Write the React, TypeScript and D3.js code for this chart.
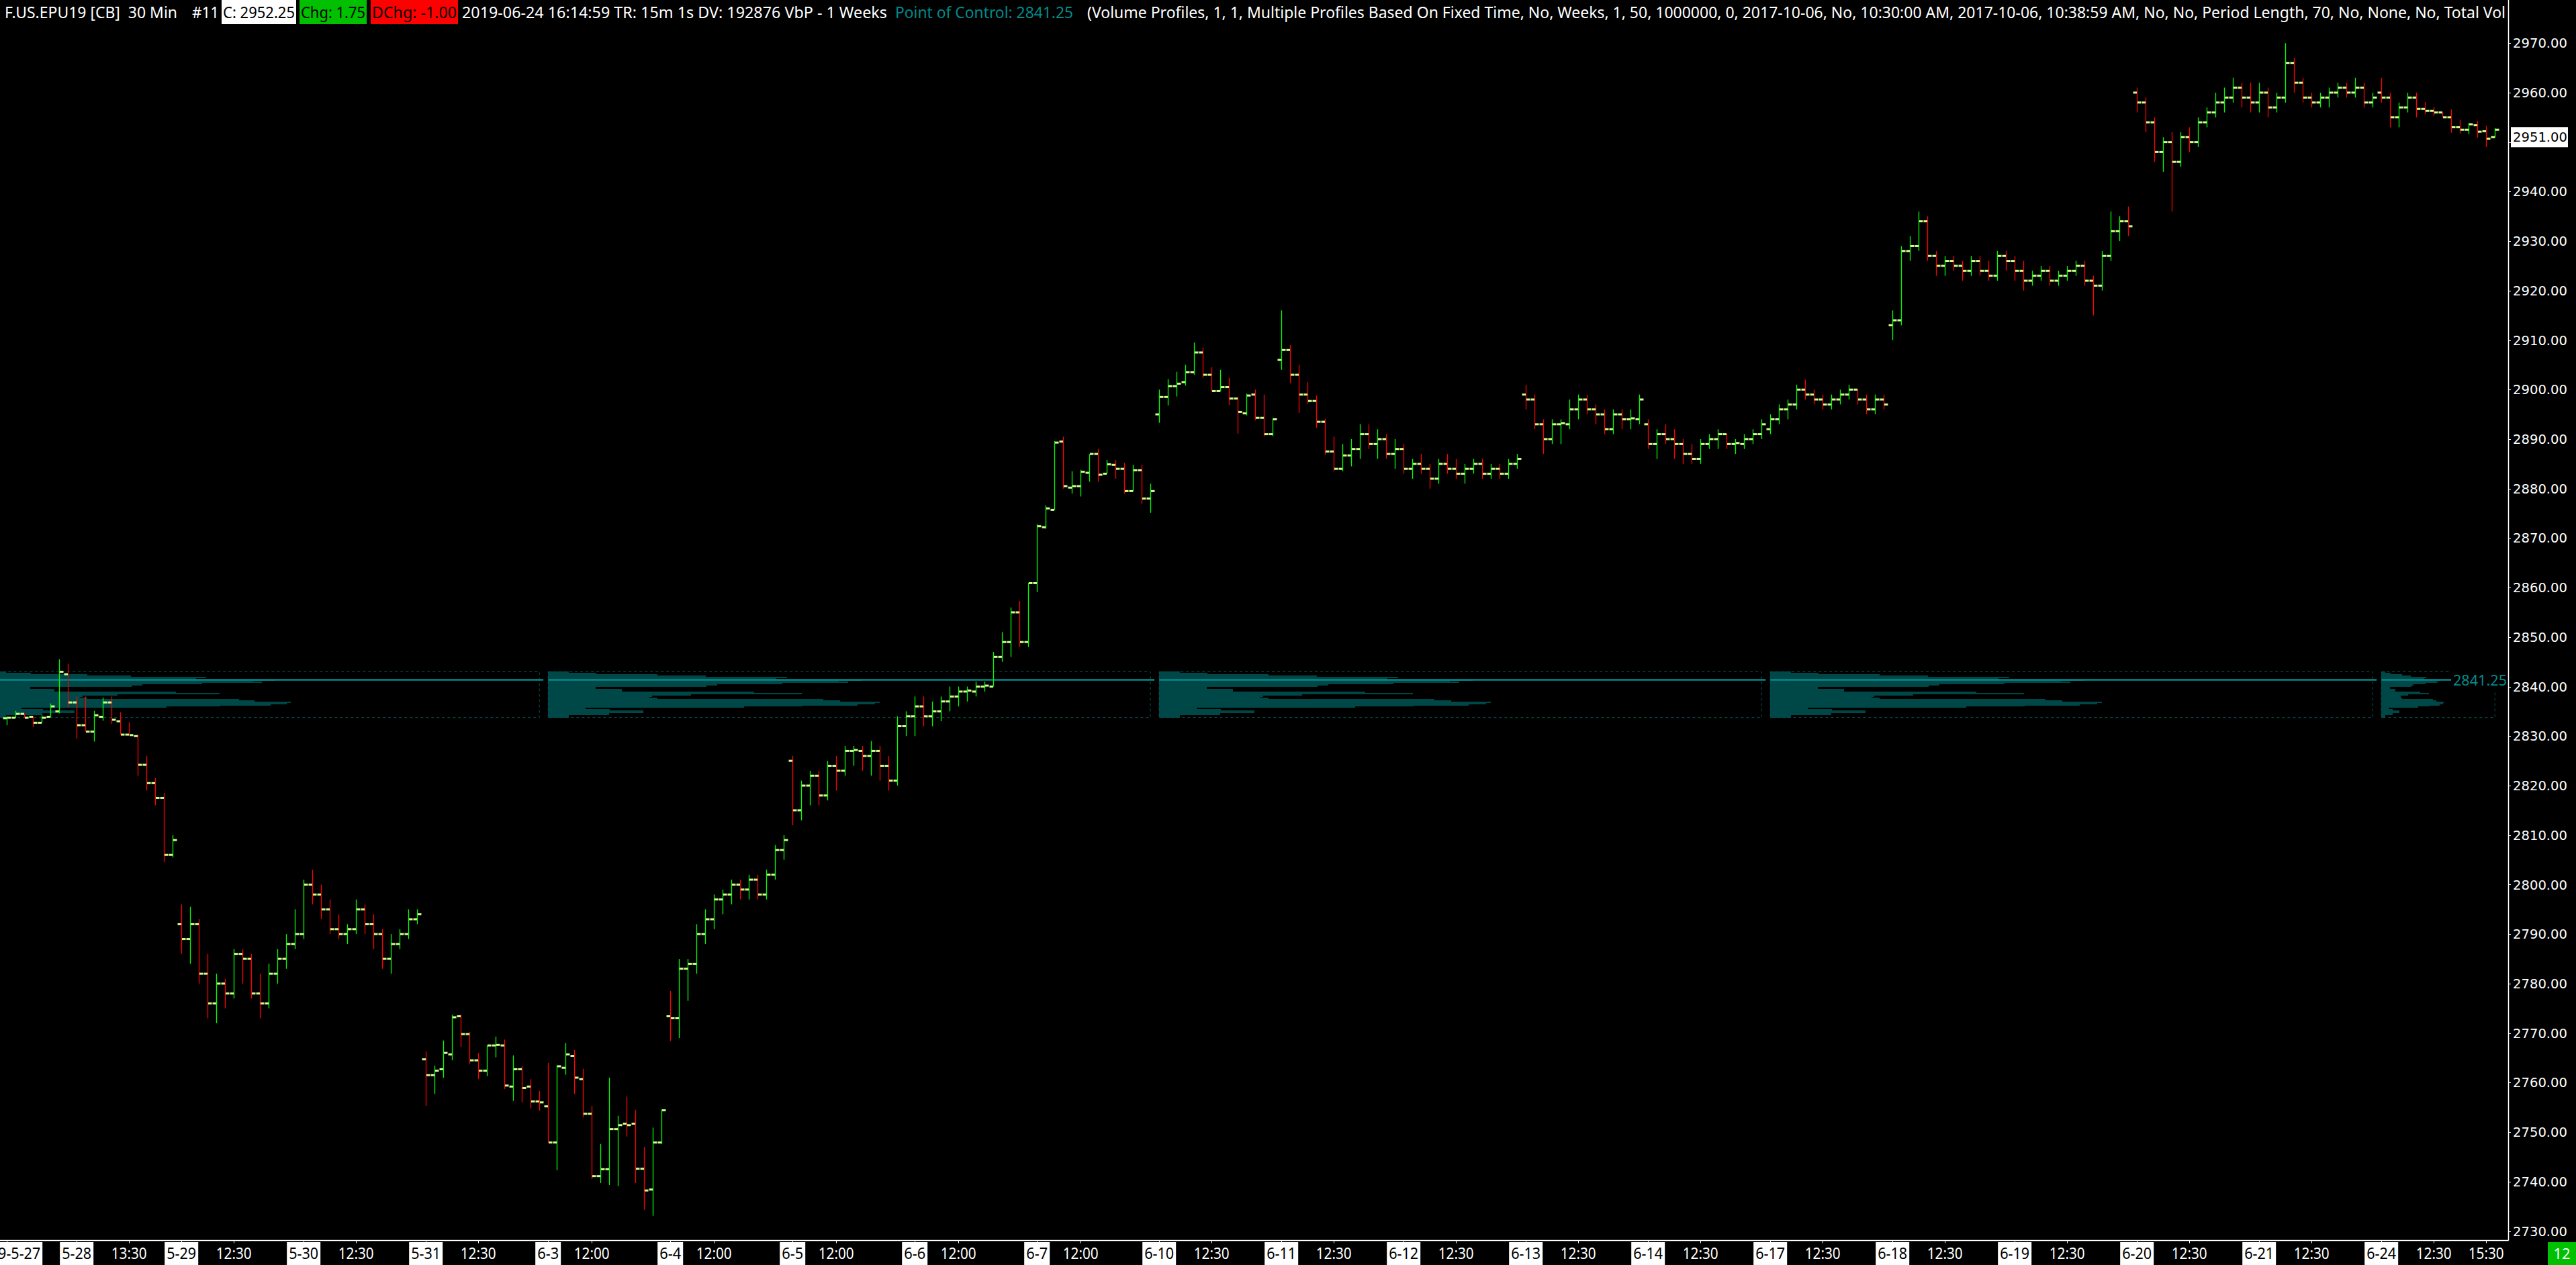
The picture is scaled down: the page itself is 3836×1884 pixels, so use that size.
import React from "react";
import * as d3 from "d3";

type OHLC = [number, number, number, number];

// ---- price bars, one array per session: [open, high, low, close] ----
const may27: OHLC[] = [
  [2833.6, 2834.0, 2832.2, 2833.7], [2833.7, 2835.1, 2833.7, 2834.5], [2834.5, 2834.6, 2833.7, 2833.7],
  [2833.9, 2834.1, 2831.8, 2832.7], [2832.7, 2834.2, 2832.7, 2833.7], [2833.9, 2836.6, 2833.9, 2836.0],
  [2835.0, 2845.5, 2834.6, 2843.0], [2842.5, 2844.6, 2835.8, 2836.8],
];
const may28: OHLC[] = [
  [2836.8, 2838.0, 2829.5, 2832.2], [2832.2, 2838.0, 2830.9, 2830.9], [2830.9, 2835.1, 2828.9, 2834.2],
  [2833.9, 2837.8, 2833.1, 2836.8], [2836.8, 2838.0, 2832.5, 2833.3], [2833.0, 2834.8, 2830.3, 2830.3],
  [2830.3, 2832.8, 2830.3, 2830.2], [2830.0, 2830.3, 2822.0, 2824.2], [2824.2, 2826.0, 2819.0, 2820.5],
  [2820.5, 2821.5, 2816.0, 2817.5], [2817.5, 2818.5, 2804.5, 2806.0], [2806.0, 2810.0, 2805.5, 2809.0],
];
const may29: OHLC[] = [
  [2792, 2796, 2786, 2789], [2789, 2795.5, 2784, 2792], [2792, 2793, 2780, 2782], [2782, 2786, 2773, 2776],
  [2776, 2782, 2772, 2780], [2780, 2781, 2775, 2778], [2778, 2787, 2777, 2786], [2786, 2787, 2780, 2785],
  [2785, 2786, 2777, 2778], [2778, 2782, 2773, 2776], [2776, 2784, 2775, 2782], [2782, 2787, 2780, 2785],
  [2785, 2790, 2783, 2788], [2788, 2795, 2787, 2790],
];
const may30: OHLC[] = [
  [2790, 2801, 2789, 2800], [2800, 2803, 2796, 2798], [2798, 2800, 2793, 2795], [2795, 2797, 2790, 2791],
  [2791, 2794, 2789, 2790], [2790, 2792, 2788, 2791], [2791, 2797, 2790, 2795], [2795, 2796, 2790, 2792],
  [2792, 2794, 2787, 2790], [2790, 2791, 2783, 2785], [2785, 2790, 2782, 2788], [2788, 2791, 2787, 2790],
  [2790, 2795, 2789, 2793], [2793, 2795, 2792, 2794],
];
const may31: OHLC[] = [
  [2764.7, 2766.3, 2755.3, 2761.5], [2761.5, 2763.4, 2757.7, 2762.4], [2762.7, 2768.5, 2761.0, 2766.0],
  [2765.7, 2773.7, 2764.5, 2773.2], [2773.4, 2773.7, 2767.2, 2769.8], [2769.8, 2770.2, 2763.8, 2764.5],
  [2764.5, 2766.0, 2760.7, 2762.4], [2762.4, 2767.5, 2761.3, 2767.5], [2767.5, 2769.3, 2765.1, 2767.6],
  [2767.5, 2768.7, 2758.7, 2759.4], [2759.2, 2765.5, 2756.3, 2762.7], [2762.7, 2763.3, 2756.0, 2758.9],
  [2759.2, 2760.7, 2754.8, 2756.2], [2756.2, 2758.3, 2754.3, 2756.0],
];
const jun3: OHLC[] = [
  [2755.2, 2764.0, 2747.9, 2747.9], [2747.9, 2763.5, 2742.3, 2763.3], [2763.0, 2768.0, 2761.6, 2765.7],
  [2765.4, 2766.6, 2757.7, 2761.0], [2760.7, 2762.8, 2753.0, 2753.7], [2753.7, 2755.3, 2740.5, 2741.1],
  [2741.1, 2747.6, 2739.7, 2742.5], [2742.5, 2761.0, 2739.3, 2750.6], [2750.6, 2753.3, 2739.1, 2751.4],
  [2751.7, 2757.2, 2749.1, 2751.4], [2751.7, 2754.5, 2739.7, 2742.6], [2742.6, 2747.0, 2734.3, 2738.2],
  [2738.4, 2750.9, 2733.1, 2747.9], [2747.9, 2754.6, 2747.6, 2754.4],
];
const jun4: OHLC[] = [
  [2773.4, 2778.5, 2768.4, 2773.0], [2773.0, 2785.0, 2769.0, 2783.0], [2783, 2785, 2776.5, 2784],
  [2784, 2792, 2782, 2790], [2790, 2795, 2788, 2793], [2793, 2798, 2791, 2797], [2797, 2799, 2794, 2798],
  [2798, 2801, 2796, 2800], [2800, 2801, 2797, 2799], [2799, 2802, 2797, 2801], [2801, 2802, 2797, 2798],
  [2798, 2803, 2797, 2802], [2802, 2808, 2801, 2807], [2807, 2810, 2805, 2809],
];
const jun5: OHLC[] = [
  [2825, 2826, 2812, 2815], [2815, 2821, 2813, 2820], [2820, 2823, 2816, 2822], [2822, 2823, 2816, 2818],
  [2818, 2825, 2817, 2824], [2824, 2826, 2819, 2823], [2823, 2828, 2822, 2827], [2827, 2828, 2824, 2827.2],
  [2827, 2828, 2823, 2826], [2826, 2829, 2822, 2827], [2827, 2828, 2821, 2824], [2824, 2826, 2819, 2821],
  [2821, 2834, 2820, 2832], [2832, 2835, 2830, 2834],
];
const jun6: OHLC[] = [
  [2834, 2838, 2830, 2836], [2836, 2838, 2832, 2834], [2834, 2837, 2832, 2835], [2835, 2838, 2833, 2837],
  [2837, 2840, 2835, 2838], [2838, 2840, 2836, 2839], [2839, 2840, 2837, 2839.2], [2839, 2841, 2838, 2840],
  [2840, 2841, 2839, 2840.2], [2840, 2847, 2840, 2846], [2846, 2851, 2845, 2849], [2849, 2856, 2846, 2855],
  [2855, 2857.3, 2848, 2849], [2849, 2861, 2848, 2860.9],
];
const jun7: OHLC[] = [
  [2860.9, 2872.8, 2859.1, 2872.4], [2872.2, 2876.6, 2871.9, 2876.0], [2875.7, 2889.6, 2875.7, 2889.3],
  [2889.5, 2890.5, 2880.0, 2880.5], [2880.2, 2883.5, 2879.0, 2880.5], [2880.5, 2883.8, 2878.4, 2883.4],
  [2883.2, 2887.0, 2881.4, 2887.0], [2887.0, 2888.0, 2881.4, 2882.8], [2883.0, 2885.8, 2883.0, 2884.9],
  [2884.8, 2885.8, 2882.0, 2884.0], [2884.0, 2885.2, 2879.0, 2879.5], [2879.5, 2884.8, 2879.4, 2883.7],
  [2883.7, 2884.8, 2876.9, 2878.0], [2878.0, 2881.0, 2875.1, 2879.5],
];
const jun10: OHLC[] = [
  [2895.0, 2900.0, 2893.3, 2898.5], [2898.5, 2902.1, 2896.8, 2900.7], [2900.7, 2903.6, 2898.6, 2901.2],
  [2901.5, 2905.0, 2900.8, 2903.5], [2903.5, 2909.5, 2903.0, 2907.5], [2907.5, 2908.5, 2902.4, 2903.0],
  [2903.0, 2904.5, 2899.6, 2899.7], [2899.7, 2904.0, 2899.6, 2900.5], [2900.5, 2902.4, 2896.9, 2898.2],
  [2898.2, 2898.5, 2891.1, 2895.5], [2895.2, 2899.2, 2894.8, 2898.8], [2899.0, 2900.0, 2893.8, 2894.3],
  [2894.3, 2899.0, 2890.6, 2891.0], [2891.0, 2894.2, 2890.6, 2894.0],
];
const jun11: OHLC[] = [
  [2906, 2916, 2904, 2908], [2908, 2909, 2901.3, 2903], [2903, 2905, 2895.3, 2899.0],
  [2899.0, 2901.5, 2897.1, 2897.7], [2897.7, 2898.8, 2892.3, 2893.5], [2893.5, 2894.1, 2886.8, 2887.5],
  [2887.5, 2890.5, 2883.5, 2884.0], [2884.0, 2889.0, 2883.5, 2886.7], [2886.7, 2890, 2884.5, 2888],
  [2888, 2893, 2886, 2891], [2891, 2893, 2888, 2889], [2889, 2892, 2886, 2890], [2890, 2891, 2886, 2887],
  [2887, 2890, 2884, 2888],
];
const jun12: OHLC[] = [
  [2888, 2889, 2883, 2884], [2884, 2886, 2882, 2885], [2885, 2887, 2883, 2884], [2884, 2885, 2880, 2882],
  [2882, 2886, 2881, 2885], [2885, 2887, 2883, 2884], [2884, 2886, 2882, 2883], [2883, 2885, 2881, 2884],
  [2884, 2886, 2883, 2885], [2885, 2886, 2882, 2883], [2883, 2885, 2882, 2884], [2884, 2885, 2882, 2883],
  [2883, 2886, 2882, 2885], [2885, 2887, 2884, 2886],
];
const jun13: OHLC[] = [
  [2899, 2901, 2896, 2898], [2898, 2899, 2892, 2893], [2893, 2894, 2887, 2890], [2890, 2894, 2889, 2893],
  [2893, 2894, 2889, 2893.2], [2893, 2898, 2892, 2896], [2896, 2899, 2894, 2898], [2898, 2899, 2895, 2896],
  [2896, 2897, 2893, 2895], [2895, 2896, 2891, 2892], [2892, 2896, 2891, 2895], [2895, 2896, 2892, 2894],
  [2894, 2896, 2892, 2894.2], [2894, 2899, 2893, 2898],
];
const jun14: OHLC[] = [
  [2893, 2894, 2888, 2889], [2889, 2892, 2886, 2891], [2891, 2893, 2889, 2890], [2890, 2892, 2886, 2889],
  [2889, 2890, 2885, 2887], [2887, 2889, 2885, 2886], [2886, 2890, 2885, 2889], [2889, 2891, 2888, 2890],
  [2890, 2892, 2888, 2891], [2891, 2891, 2888, 2889], [2889, 2890, 2887, 2889.2], [2889, 2891, 2888, 2890],
  [2890, 2892, 2889, 2891], [2891, 2894, 2890, 2893],
];
const jun17: OHLC[] = [
  [2892, 2895, 2891, 2894], [2894, 2897, 2893, 2896], [2896, 2898, 2894, 2897], [2897, 2901, 2896, 2900],
  [2900, 2902, 2898, 2899], [2899, 2900, 2897, 2898], [2898, 2899, 2896, 2897], [2897, 2899, 2896, 2898],
  [2898, 2900, 2897, 2899], [2899, 2901, 2898, 2900], [2900, 2900, 2897, 2898], [2898, 2899, 2895, 2896],
  [2896, 2899, 2895, 2898], [2898, 2899, 2896, 2897],
];
const jun18: OHLC[] = [
  [2913, 2916, 2910, 2914], [2914, 2929, 2913, 2928], [2928, 2931, 2926, 2929], [2929, 2936, 2928, 2934],
  [2934, 2935, 2926, 2927], [2927, 2928, 2923, 2925], [2925, 2927, 2923, 2926], [2926, 2927, 2924, 2925],
  [2925, 2926, 2922, 2924], [2924, 2927, 2923, 2926], [2926, 2927, 2923, 2924], [2924, 2926, 2922, 2923],
  [2923, 2928, 2922, 2927], [2927, 2928, 2924, 2926],
];
const jun19: OHLC[] = [
  [2926, 2927, 2922, 2924], [2924, 2926, 2920, 2922], [2922, 2924, 2921, 2923], [2923, 2925, 2922, 2924],
  [2924, 2925, 2921, 2922], [2922, 2924, 2921, 2923], [2923, 2925, 2922, 2924], [2924, 2926, 2923, 2925],
  [2925, 2926, 2921, 2922], [2922, 2923, 2915, 2921], [2921, 2928, 2920, 2927], [2927, 2936, 2926, 2932],
  [2932, 2935, 2930, 2934], [2934, 2937, 2931, 2933],
];
const jun20: OHLC[] = [
  [2960, 2961, 2956, 2958], [2958, 2959, 2952, 2954], [2954, 2955, 2946, 2948], [2948, 2951, 2944, 2950],
  [2950, 2952, 2936, 2946], [2946, 2952, 2945, 2951], [2951, 2953, 2948, 2950], [2950, 2955, 2949, 2954],
  [2954, 2957, 2953, 2956], [2956, 2960, 2955, 2958], [2958, 2961, 2956, 2959], [2959, 2963, 2958, 2961],
  [2961, 2962, 2957, 2959], [2959, 2962, 2956, 2958],
];
const jun21: OHLC[] = [
  [2958, 2962, 2956, 2960], [2960, 2961, 2955, 2957], [2957, 2960, 2956, 2959], [2959, 2970, 2958, 2966],
  [2966, 2967, 2960, 2962], [2962, 2963, 2958, 2959], [2959, 2960, 2957, 2958], [2958, 2960, 2957, 2959],
  [2959, 2961, 2957, 2960], [2960, 2962, 2959, 2961], [2961, 2962, 2959, 2960], [2960, 2963, 2959, 2961],
  [2961, 2962, 2957, 2958], [2958, 2960, 2957, 2959],
];
const jun24: OHLC[] = [
  [2960, 2963, 2958, 2959], [2959, 2960, 2953, 2955], [2955, 2958, 2953, 2957], [2957, 2960, 2956, 2959],
  [2959, 2960, 2955, 2956.7], [2956.7, 2958.1, 2955.6, 2956.3], [2956.3, 2957.1, 2955.3, 2956.0],
  [2956.0, 2956.0, 2955.0, 2955.0], [2955.0, 2956.6, 2951.9, 2953.0], [2953.0, 2954.5, 2951.7, 2952.5],
  [2952.5, 2953.9, 2951.6, 2953.6], [2953.4, 2954.3, 2950.9, 2952.1], [2952.2, 2953.3, 2949.0, 2950.7],
  [2951.0, 2952.8, 2950.9, 2952.5],
];

const sessions: OHLC[][] = [may27, may28, may29, may30, may31, jun3, jun4, jun5, jun6, jun7, jun10, jun11, jun12, jun13, jun14, jun17, jun18, jun19, jun20, jun21, jun24];
const sessionDates = ["2019-5-27", "5-28", "5-29", "5-30", "5-31", "6-3", "6-4", "6-5", "6-6", "6-7", "6-10", "6-11", "6-12", "6-13", "6-14", "6-17", "6-18", "6-19", "6-20", "6-21", "6-24"];
const sessionTimes = ["", "13:30", "12:30", "12:30", "12:30", "12:00", "12:00", "12:00", "12:00", "12:00", "12:30", "12:30", "12:30", "12:30", "12:30", "12:30", "12:30", "12:30", "12:30", "12:30", "12:30"];
const sessionTimeBar = [0, 6, 6, 6, 6, 5, 5, 5, 5, 5, 6, 6, 6, 6, 6, 6, 6, 6, 6, 6, 6];
const extraTimeLabel = "15:30";
const extraTimeBar = 12;

const priceTicks = d3.range(2730, 2971, 10);
const lastPrice = 2951.0;
const barCountLabel = "12";

// ---- volume profile: levels from 2842.75 downward in 0.25 steps ----
const profileTop = 2842.75;
const profileTick = 0.25;
const pocPrice = 2841.25;
const profileVolumes = [
  28, 65, 148, 213, 323, 309, 424, 393, 406, 317, 229, 214, 64, 64, 100, 100, 279, 343, 193,
  141, 137, 148, 372, 395, 448, 442, 418, 344, 265, 51, 83, 129, 129, 82, 82, 28, 28,
];
const profileStartBar = [-2.3, 62, 132, 202, 272];
const profileEndBar = [61, 131, 201, 271, 285];

// header
const headerTitle = "F.US.EPU19 [CB]  30 Min";
const headerNum = "#11";
const headerClose = "C: 2952.25";
const headerChg = "Chg: 1.75";
const headerDChg = "DChg: -1.00";
const headerInfo = "2019-06-24 16:14:59 TR: 15m 1s DV: 192876 VbP - 1 Weeks";
const headerPoc = "Point of Control: 2841.25";
const headerStudy = "(Volume Profiles, 1, 1, Multiple Profiles Based On Fixed Time, No, Weeks, 1, 50, 1000000, 0, 2017-10-06, No, 10:30:00 AM, 2017-10-06, 10:38:59 AM, No, No, Period Length, 70, No, None, No, Total Vol";

const W = 3836;
const H = 1884;
const AXIS_X = 3735;
const AXIS_Y = 1847.5;
const UP = "#00ff00";
const DOWN = "#ff0000";
const TICKC = "#ccff90";
const PROF = "#004747";
const POC = "#008b8b";
const UIFONT = "'Noto Sans', 'Open Sans', sans-serif";

export default function App() {
  const bars: OHLC[] = sessions.flat();
  const sessionStart: number[] = [];
  let acc = 0;
  sessions.forEach((s) => { sessionStart.push(acc); acc += s.length; });

  const x = d3.scaleLinear().domain([0, bars.length - 1]).range([10.2, 10.2 + 13 * (bars.length - 1)]);
  const y = d3.scaleLinear().domain([2730, 2970]).range([1833.5, 64.2]);

  const maxVol = d3.max(profileVolumes) as number;

  const bottomLabels: { x: number; text: string; boxed: boolean }[] = [];
  sessions.forEach((_, i) => {
    bottomLabels.push({ x: x(sessionStart[i]), text: sessionDates[i], boxed: true });
    if (sessionTimes[i]) bottomLabels.push({ x: x(sessionStart[i] + sessionTimeBar[i]), text: sessionTimes[i], boxed: false });
  });
  bottomLabels.push({ x: x(sessionStart[sessions.length - 1] + extraTimeBar), text: extraTimeLabel, boxed: false });

  const charW = (t: string) => {
    let w = 0;
    for (const c of t) w += c === "-" ? 8 : c === ":" ? 5 : 12;
    return w;
  };

  return (
    <svg width={W} height={H} style={{ position: "fixed", left: 0, top: 0, background: "#000" }} xmlns="http://www.w3.org/2000/svg">
      <defs>
        <clipPath id="plot"><rect x={0} y={38} width={AXIS_X} height={AXIS_Y - 38} /></clipPath>
        <clipPath id="hdr"><rect x={0} y={0} width={AXIS_X - 1} height={40} /></clipPath>
      </defs>
      <rect x={0} y={0} width={W} height={H} fill="#000" />

      <g clipPath="url(#plot)">
        {profileStartBar.map((sb, k) => {
          const x0 = x(sb);
          const x1 = x(profileEndBar[k]);
          const vx = d3.scaleLinear().domain([0, maxVol]).range([0, 0.55 * (x1 - x0)]);
          const yTop = y(profileTop + profileTick);
          const yBot = y(profileTop - profileTick * (profileVolumes.length - 1));
          return (
            <g key={"p" + k}>
              {profileVolumes.map((v, j) => {
                const p = profileTop - j * profileTick;
                return <rect key={j} x={x0} y={y(p + profileTick)} width={vx(v)} height={y(p) - y(p + profileTick) + 0.3} fill={PROF} shapeRendering="crispEdges" />;
              })}
              <rect x={x0} y={yTop} width={x1 - x0} height={yBot - yTop} fill="none" stroke="#0b4f4f" strokeWidth={1} strokeDasharray="4,4" />
              <line x1={x0} x2={k === profileStartBar.length - 1 ? 3650 : x1 + 6} y1={y(pocPrice + profileTick / 2)} y2={y(pocPrice + profileTick / 2)} stroke={POC} strokeWidth={2.5} />
            </g>
          );
        })}

        {bars.map((b, i) => {
          const [o, h, l, c] = b;
          const cx = Math.round(x(i)) + 0.5;
          const col = c >= o ? UP : DOWN;
          return (
            <g key={i}>
              <line x1={cx} x2={cx} y1={y(h)} y2={y(l)} stroke={col} strokeWidth={1.3} />
              <rect x={cx - 6} y={y(o) - 1.5} width={5.5} height={3} fill={TICKC} />
              <rect x={cx + 0.5} y={y(c) - 1.5} width={5.5} height={3} fill={TICKC} />
            </g>
          );
        })}

        <rect x={3650} y={997} width={84} height={30} fill="#000" />
        <text x={3653} y={1021} fontFamily={UIFONT} fontSize={22} fill={POC} textLength={80} lengthAdjust="spacingAndGlyphs">{pocPrice.toFixed(2)}</text>
      </g>

      {/* header */}
      <g clipPath="url(#hdr)" fontFamily={UIFONT} fontSize={23}>
        <text x={7} y={27} fill="#fff" textLength={257} lengthAdjust="spacingAndGlyphs" xmlSpace="preserve">{headerTitle}</text>
        <text x={286} y={27} fill="#fff" textLength={40} lengthAdjust="spacingAndGlyphs">{headerNum}</text>
        <rect x={330} y={0} width={111} height={36} fill="#fff" />
        <text x={332} y={27} fill="#000" textLength={107} lengthAdjust="spacingAndGlyphs">{headerClose}</text>
        <rect x={446} y={0} width={100} height={36} fill="#00c000" />
        <text x={448} y={27} fill="#000" textLength={96} lengthAdjust="spacingAndGlyphs">{headerChg}</text>
        <rect x={552} y={0} width={130} height={36} fill="#ff0000" />
        <text x={554} y={27} fill="#000" textLength={126} lengthAdjust="spacingAndGlyphs">{headerDChg}</text>
        <text x={688} y={27} fill="#fff" textLength={633} lengthAdjust="spacingAndGlyphs">{headerInfo}</text>
        <text x={1333} y={27} fill={POC} textLength={265} lengthAdjust="spacingAndGlyphs">{headerPoc}</text>
        <text x={1619} y={27} fill="#fff" textLength={2112} lengthAdjust="spacingAndGlyphs">{headerStudy}</text>
      </g>

      {/* axes */}
      <line x1={AXIS_X + 0.5} x2={AXIS_X + 0.5} y1={0} y2={AXIS_Y} stroke="#fff" strokeWidth={1.5} />
      <line x1={0} x2={AXIS_X + 0.5} y1={AXIS_Y} y2={AXIS_Y} stroke="#fff" strokeWidth={1.5} />

      {priceTicks.map((p) => (
        <g key={p}>
          <line x1={AXIS_X} x2={AXIS_X + 4} y1={Math.round(y(p)) + 0.5} y2={Math.round(y(p)) + 0.5} stroke="#fff" strokeWidth={1} />
          <text x={3742} y={y(p)} dy="0.36em" fontFamily="'DejaVu Sans', Verdana, sans-serif" fontSize={19.6} fill="#fff">{p.toFixed(2)}</text>
        </g>
      ))}
      <rect x={3739} y={y(lastPrice) - 15} width={85} height={30} fill="#fff" />
      <text x={3742} y={y(lastPrice)} dy="0.36em" fontFamily="'DejaVu Sans', Verdana, sans-serif" fontSize={19.6} fill="#000">{lastPrice.toFixed(2)}</text>

      {bottomLabels.map((lb, i) => {
        const w = charW(lb.text);
        return (
          <g key={"b" + i}>
            <line x1={Math.round(lb.x) + 0.5} x2={Math.round(lb.x) + 0.5} y1={AXIS_Y} y2={AXIS_Y + 4} stroke="#fff" strokeWidth={1} />
            {lb.boxed && <rect x={lb.x - w / 2 - 3} y={1850} width={w + 6} height={34} fill="#fff" />}
            <text x={lb.x} y={1875} textAnchor="middle" fontFamily={UIFONT} fontSize={23} fill={lb.boxed ? "#000" : "#fff"} textLength={w} lengthAdjust="spacingAndGlyphs">{lb.text}</text>
          </g>
        );
      })}

      <rect x={3794} y={1850} width={42} height={34} fill="#00c000" />
      <text x={3815} y={1875} textAnchor="middle" fontFamily={UIFONT} fontSize={22} fill="#fff">{barCountLabel}</text>
    </svg>
  );
}
